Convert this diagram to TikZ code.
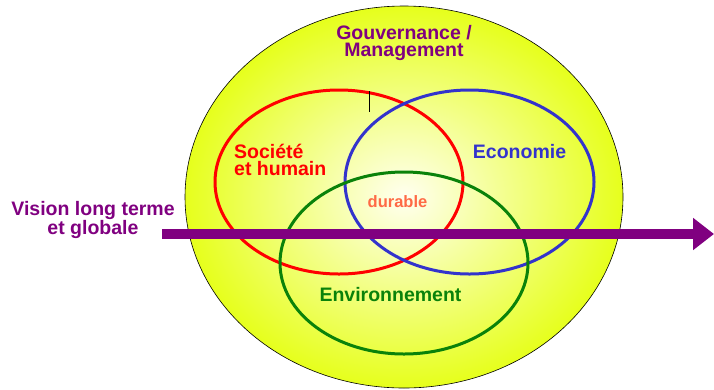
\documentclass[tikz,border=0pt]{standalone}
\usepackage{fontspec}
\setmainfont{Liberation Sans}
\usepackage{xcolor}
\definecolor{ppurple}{HTML}{800080}
\definecolor{rred}{HTML}{FF0000}
\definecolor{bblue}{HTML}{3333CC}
\definecolor{ggreen}{HTML}{0A820A}
\definecolor{oorange}{HTML}{FF6A45}
\definecolor{yyellow}{HTML}{E6FF1C}
\definecolor{ccream}{HTML}{FFFFF0}
\usetikzlibrary{arrows.meta}
\usetikzlibrary{positioning}

\begin{document}
\begin{tikzpicture}[
    x=1pt, y=-1pt,
    txt/.style={font=\fontsize{19.5}{17.5}\selectfont\bfseries, align=center, inner sep=0pt},
    ring/.style={line width=3pt},
    bigarrow/.style={-{Triangle[length=21pt,width=31pt]}, line width=10pt, ppurple},
    ]
    \useasboundingbox (0,0) rectangle (714,389);
    % the big yellow disc
    \shade[inner color=ccream, outer color=yyellow, draw=black, line width=0.6pt] (404,197) ellipse [x radius=219, y radius=191];
    % the three rings
    \draw[ring, rred] (339,182) ellipse [x radius=124, y radius=92];
    \draw[ring, bblue] (469.5,182) ellipse [x radius=124.5, y radius=92];
    \draw[ring, ggreen] (404,263) ellipse [x radius=124, y radius=91];
    \coordinate (ticktop) at (369,91);
    \coordinate (tickbot) at (369,112);
    \draw[black, line width=0.8pt] (ticktop) -- (tickbot);
    % texts
    \node[txt, ppurple] (gouv) at (404,43) {Gouvernance /\\Management};
    \node[txt, rred, align=left, anchor=west] (soc) at (234,160) {Société\\et humain};
    \node[txt, bblue] (eco) at (519.5,152) {Economie};
    \node[txt, oorange, font=\fontsize{16.5}{16}\selectfont\bfseries] (dur) at (397.5,202) {durable};
    \node[txt, ggreen] (env) at (390.5,295) {Environnement};
    \node[txt, ppurple] (vis) at (93,220) {Vision long terme\\et globale};
    % the arrow
    \coordinate (vstart) at (162,234);
    \coordinate (vend) at (714,234);
    \draw[bigarrow] (vstart) -- (vend);
\end{tikzpicture}
\end{document}
